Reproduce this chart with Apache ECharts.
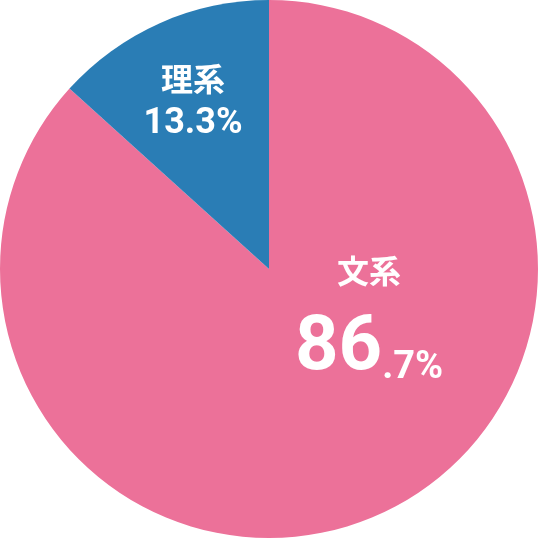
<!DOCTYPE html>
<html>
<head>
<meta charset="utf-8">
<script src="https://cdn.jsdelivr.net/npm/echarts@6/dist/echarts.min.js"></script>
<style>
html,body{margin:0;padding:0;background:#fff;}
#chart{width:538px;height:538px;}
</style>
</head>
<body>
<div id="chart"></div>
<script>
const categories = ['文系', '理系'];
const values = [86.7, 13.3];
const colors = ['#EC7199', '#2A7DB5'];

const FONT = "Roboto, 'Noto Sans CJK JP', sans-serif";
const chart = echarts.init(document.getElementById('chart'));

const data = categories.map((c, i) => ({ name: c, value: values[i], itemStyle: { color: colors[i] } }));

chart.setOption({
  animation: false,
  series: [{
    type: 'pie',
    radius: '100%',
    center: ['50%', '50%'],
    startAngle: 90,
    clockwise: true,
    silent: true,
    data: data,
    label: {
      show: true,
      position: 'inside',
      color: '#fff',
      fontFamily: FONT,
      formatter: function (p) {
        const s = p.value.toFixed(1);
        if (p.dataIndex === 0) {
          const parts = s.split('.');
          return '{n2|' + p.name + '}\n{big|' + parts[0] + '}{small|.' + parts[1] + '%}';
        }
        return '{n|' + p.name + '}\n{p|' + s + '%}';
      },
      rich: {
        n: { fontSize: 32, fontWeight: 'bold', color: '#fff', fontFamily: "'Noto Sans CJK JP', sans-serif", lineHeight: 50, align: 'center' },
        n2: { fontSize: 32, fontWeight: 'bold', color: '#fff', fontFamily: "'Noto Sans CJK JP', sans-serif", lineHeight: 54, align: 'center' },
        p: { fontSize: 36, fontWeight: 'bold', color: '#fff', fontFamily: FONT, lineHeight: 40 },
        big: { fontSize: 76, fontWeight: 'bold', color: '#fff', fontFamily: FONT, lineHeight: 90, verticalAlign: 'bottom' },
        small: { fontSize: 38, fontWeight: 'bold', color: '#fff', fontFamily: FONT, lineHeight: 90, verticalAlign: 'bottom' }
      }
    },
    labelLine: { show: false },
    labelLayout: function (params) {
      if (params.dataIndex === 0) {
        return { x: 369, y: 316, align: 'center', verticalAlign: 'middle' };
      }
      return { x: 193, y: 99, align: 'center', verticalAlign: 'middle' };
    }
  }]
});
</script>
</body>
</html>
